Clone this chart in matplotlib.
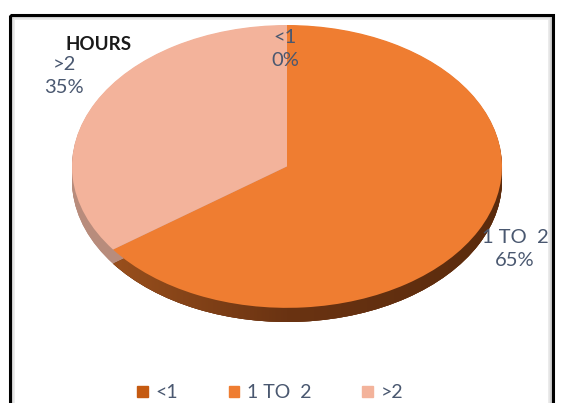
import numpy as np
import matplotlib
matplotlib.use("Agg")
import matplotlib.pyplot as plt
from matplotlib.patches import Rectangle
from matplotlib.colors import LinearSegmentedColormap

plt.rcParams['font.family'] = ['Lato', 'DejaVu Sans']

title = "HOURS"
categories = ["<1", "1 TO  2", ">2"]
values = [0, 65, 35]

top_colors = ["#C55A11", "#EF7D31", "#F3B39B"]
side_colors = ["#7A3A10", "#6E3512", "#B88C7C"]
label_color = "#4A5870"

W, H = 561, 403
fig = plt.figure(figsize=(W / 100, H / 100), dpi=100)

# overlay axes in pixel units for the frame and labels (kept above the pie)
bg = fig.add_axes([0, 0, 1, 1])
bg.set_xlim(0, W)
bg.set_ylim(H, 0)
bg.axis("off")
bg.set_zorder(5)

# chart frame with a soft grey inner shadow
for i, c in enumerate(["#BDBDBD", "#D6D6D6", "#E8E8E8"]):
    bg.add_patch(Rectangle((12 + i, 17 + i), 539 - 2 * i, 420, fill=False,
                           edgecolor=c, lw=1.2))
bg.add_patch(Rectangle((10, 15), 543, 420, fill=False, edgecolor="black", lw=2.2))

# pie drawn in its own axes so it squashes into an ellipse
px0, px1, py0, py1 = 72, 502, 25, 322
ax = fig.add_axes([px0 / W, 1 - py1 / H, (px1 - px0) / W, (py1 - py0) / H])

depth = 0.1
wedge_kw = dict(linewidth=0)
for off in np.linspace(depth, 0.005, 14):
    ax.pie(values, colors=side_colors, startangle=90, counterclock=False,
           center=(0, -off), radius=1, wedgeprops=wedge_kw, frame=True)

# horizontal shading on the rim of the big slice
rim, _ = ax.pie(values, colors=side_colors, startangle=90, counterclock=False,
                center=(0, -depth), radius=1, wedgeprops=wedge_kw, frame=True)
shade = LinearSegmentedColormap.from_list("rim", ["#A4561F", "#6A3312", "#5A2B0D"])
grad = np.linspace(0, 1, 256).reshape(1, -1)
img = ax.imshow(grad, cmap=shade, extent=(-1, 1, -1.1, 0.2), aspect="auto",
                zorder=2)
img.set_clip_path(rim[1])

tops, _ = ax.pie(values, colors=top_colors, startangle=90, counterclock=False,
                 center=(0, 0), radius=1, wedgeprops=wedge_kw, frame=True)
for w in tops:
    w.set_zorder(3)
ax.set_xlim(-1, 1)
ax.set_ylim(-1.1, 1)
ax.set_aspect("auto")
ax.axis("off")

# data labels
total = sum(values)
label_pos = [(285, 49), (515, 249), (64, 76)]
for cat, v, (x, y) in zip(categories, values, label_pos):
    bg.text(x, y, f"{cat}\n{round(100 * v / total)}%", ha="center", va="center",
            fontsize=14.5, color=label_color, linespacing=1.45, zorder=5)

bg.text(66, 44, title, ha="left", va="center", fontsize=13.5, fontweight="bold",
        color="#1A1A1A", zorder=5)

handles = [Rectangle((0, 0), 1, 1, color=c) for c in top_colors]
fig.legend(handles, categories, loc="center", bbox_to_anchor=(270 / W, 1 - 393 / H),
           ncol=3, frameon=False, fontsize=14, handlelength=0.55, handleheight=0.55,
           handletextpad=0.4, columnspacing=2.6, labelcolor=label_color)

fig.savefig("out.png", dpi=100, facecolor="white")
